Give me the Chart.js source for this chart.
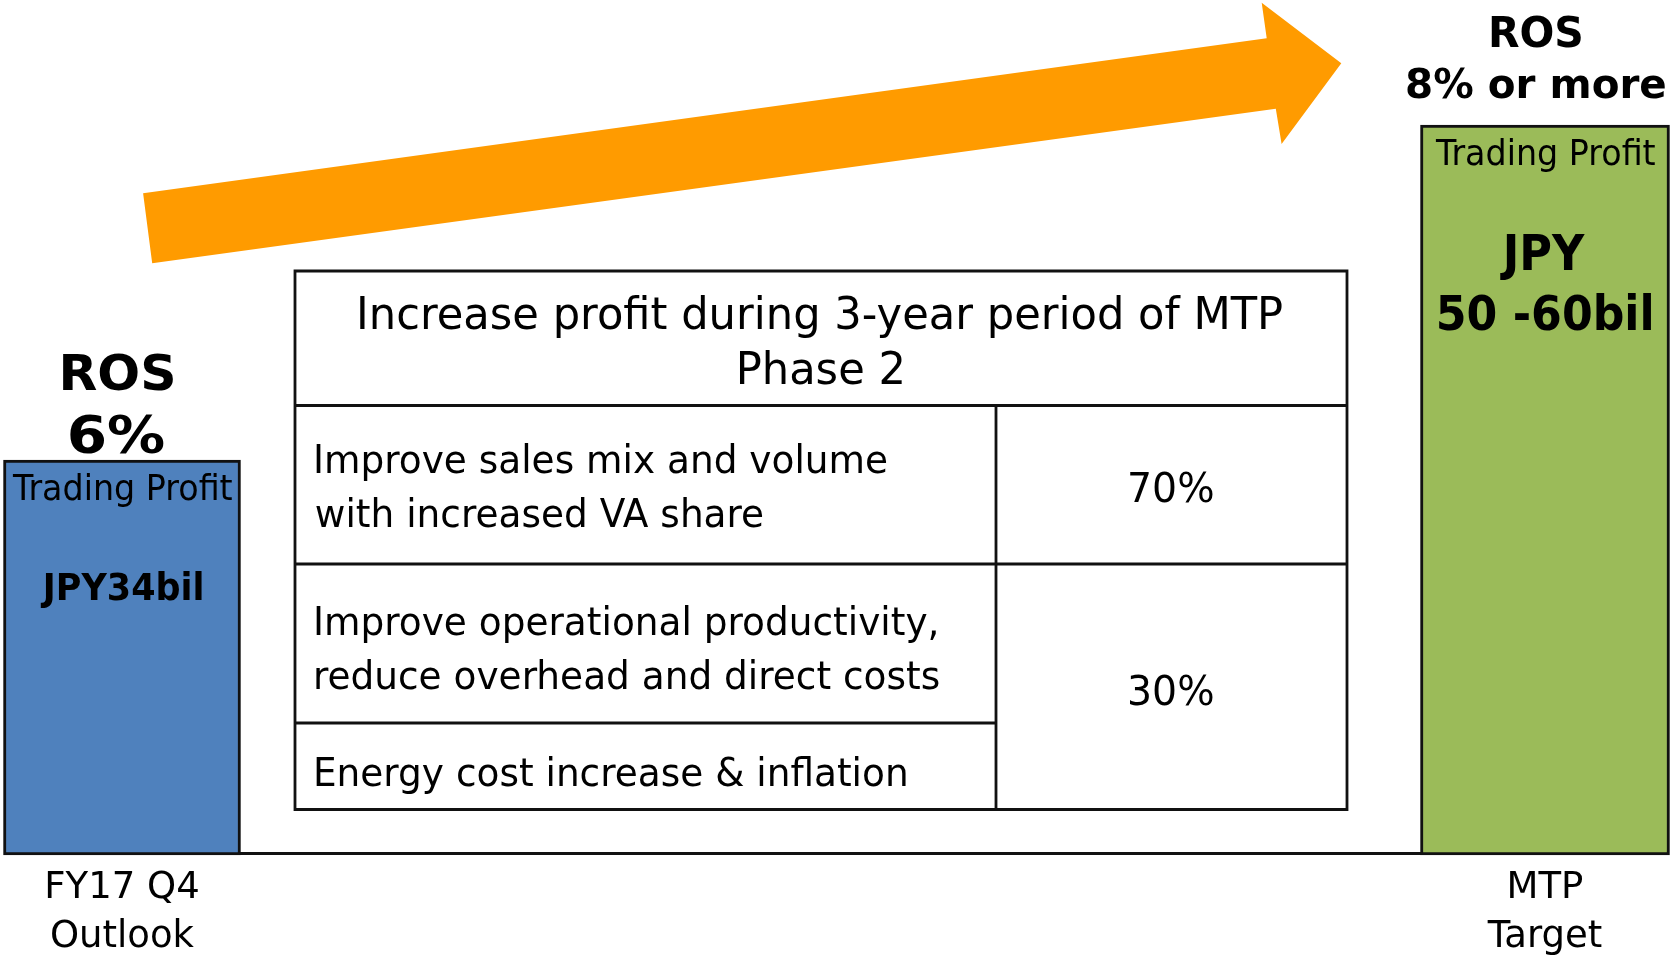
<!DOCTYPE html>
<html>
<head>
<meta charset="utf-8">
<script src="https://cdn.jsdelivr.net/npm/chart.js@4.4.1/dist/chart.umd.min.js"></script>
<style>
  html, body { margin: 0; padding: 0; background: #ffffff; }
  canvas { display: block; }
</style>
</head>
<body>
<canvas id="c" width="1672" height="966"></canvas>
<script>
// ---------------- DATA ----------------
const categories = [["FY17 Q4", "Outlook"], ["MTP", "Target"]];
const tradingProfit = [34, 60];                 // JPY bil (MTP target: 50-60)
const rosLabels = [["ROS", "6%"], ["ROS", "8% or more"]];
const profitTitle = ["Trading Profit", "Trading Profit"];
const profitValueLabels = [["JPY34bil"], ["JPY", "50 -60bil"]];
const tableHeader = ["Increase profit during 3-year period of MTP", "Phase 2"];
const tableRows = [
  ["Improve sales mix and volume", "with increased VA share"],
  ["Improve operational productivity,", "reduce overhead and direct costs"],
  ["Energy cost increase & inflation"]
];
const tableShares = ["70%", "30%"];

// ---------------- STYLE / LAYOUT ----------------
const FONT = '"DejaVu Sans", "Liberation Sans", sans-serif';
const yMin = 3.343, yMax = 69.70;
const barColors = ["#4F81BD", "#9BBB59"];
const barWidths = [237, 249];
const lineColor = '#111111';
const arrowColor = "#FF9B00";
const arrowShape = [[143.1,193.3],[1266.7,38.3],[1261.7,2.7],[1341.3,63.3],[1281.6,144],[1275.8,108.7],[152.2,263.3]];
const barLabelStyle = [
  { ros: [{dx:-4, dy:-70, size:50, w:111}, {dx:-5, dy:-7, size:52, w:94}],
    title: {dx:0, dy:40, size:35, w:220},
    val: [{dx:-1, dy:140, size:37, w:162}] },
  { ros: [{dx:-8.3, dy:-78.3, size:43.5, w:90}, {dx:-9, dy:-26.7, size:41, w:258}],
    title: {dx:0, dy:40, size:35, w:220},
    val: [{dx:-2.5, dy:145, size:50, w:85}, {dx:0, dy:205, size:48, w:213}] }
];
const tbl = {
  x0: 295, x1: 1347, colX: 996,
  yTop: 271, yHead: 405.5, yR1: 564, yR2: 723, yBot: 809.5,
  lw: 2.8,
  headBase: [328.5, 384], headSize: 45,
  rowX: 315.8, rowSize: 39, rowBase: [[473.3, 526.7], [635, 689], [786]],
  shareX: 1171.3, shareSize: 41, shareBase: [501.7, 705],
  sx: 0.96
};

function drawText(ctx, s, x, y, o) {
  ctx.save();
  ctx.font = (o.bold ? 'bold ' : '') + o.size + 'px ' + FONT;
  ctx.textAlign = 'left';
  ctx.textBaseline = 'alphabetic';
  ctx.fillStyle = '#000000';
  const m = ctx.measureText(s);
  const bbL = m.actualBoundingBoxLeft, bbR = m.actualBoundingBoxRight;
  let sx = o.sx || 1;
  if (o.w) sx = o.w / (bbL + bbR);
  const ox = o.align === 'center' ? -(bbR - bbL) / 2 : bbL;
  ctx.translate(x, y);
  ctx.scale(sx, 1);
  ctx.fillText(s, ox, 0);
  ctx.restore();
}

const decorPlugin = {
  id: 'decor',
  beforeDatasetsDraw(chart) {
    const ctx = chart.ctx;
    // arrow
    ctx.save();
    ctx.fillStyle = arrowColor;
    ctx.beginPath();
    arrowShape.forEach((p, i) => i ? ctx.lineTo(p[0], p[1]) : ctx.moveTo(p[0], p[1]));
    ctx.closePath();
    ctx.fill();
    ctx.restore();
    // table
    ctx.save();
    ctx.strokeStyle = lineColor;
    ctx.lineWidth = tbl.lw;
    ctx.fillStyle = '#ffffff';
    ctx.fillRect(tbl.x0, tbl.yTop, tbl.x1 - tbl.x0, tbl.yBot - tbl.yTop);
    ctx.beginPath();
    ctx.rect(tbl.x0, tbl.yTop, tbl.x1 - tbl.x0, tbl.yBot - tbl.yTop);
    ctx.moveTo(tbl.x0, tbl.yHead); ctx.lineTo(tbl.x1, tbl.yHead);
    ctx.moveTo(tbl.x0, tbl.yR1); ctx.lineTo(tbl.x1, tbl.yR1);
    ctx.moveTo(tbl.x0, tbl.yR2); ctx.lineTo(tbl.colX, tbl.yR2);
    ctx.moveTo(tbl.colX, tbl.yHead); ctx.lineTo(tbl.colX, tbl.yBot);
    ctx.stroke();
    ctx.restore();
    const cx = (tbl.x0 + tbl.x1) / 2;
    tableHeader.forEach((s, i) => drawText(ctx, s, cx, tbl.headBase[i], {size: tbl.headSize, sx: tbl.sx, align: 'center'}));
    tableRows.forEach((lines, r) => lines.forEach((s, i) =>
      drawText(ctx, s, tbl.rowX, tbl.rowBase[r][i], {size: tbl.rowSize, sx: tbl.sx, align: 'left'})));
    tableShares.forEach((s, i) => drawText(ctx, s, tbl.shareX, tbl.shareBase[i], {size: tbl.shareSize, sx: tbl.sx, align: 'center'}));
  },
  afterDatasetsDraw(chart) {
    const ctx = chart.ctx;
    // baseline joining the bar bottoms
    const els = tradingProfit.map((v, i) => chart.getDatasetMeta(i).data[i]).filter(Boolean);
    if (els.length) {
      const first = els[0], last = els[els.length - 1];
      ctx.save();
      ctx.strokeStyle = lineColor;
      ctx.lineWidth = 3;
      ctx.beginPath();
      const yb = chart.chartArea.bottom - 1.5;
      ctx.moveTo(first.x + first.width / 2 - 1.5, yb);
      ctx.lineTo(last.x - last.width / 2 + 1.5, yb);
      ctx.stroke();
      ctx.restore();
    }
    tradingProfit.forEach((v, i) => {
      const el = chart.getDatasetMeta(i).data[i];
      if (!el) return;
      const st = barLabelStyle[i];
      rosLabels[i].forEach((s, k) => {
        const o = st.ros[k];
        drawText(ctx, s, el.x + o.dx, el.y + o.dy, {size: o.size, w: o.w, bold: true, align: 'center'});
      });
      drawText(ctx, profitTitle[i], el.x + st.title.dx, el.y + st.title.dy, {size: st.title.size, w: st.title.w, align: 'center'});
      profitValueLabels[i].forEach((s, k) => {
        const o = st.val[k];
        drawText(ctx, s, el.x + o.dx, el.y + o.dy, {size: o.size, w: o.w, bold: true, align: 'center'});
      });
    });
  }
};

const datasets = tradingProfit.map((v, i) => ({
  label: categories[i].join(' '),
  data: tradingProfit.map((d, j) => (j === i ? d : null)),
  base: yMin,
  backgroundColor: barColors[i],
  borderColor: lineColor,
  borderWidth: 3,
  borderSkipped: false,
  barThickness: barWidths[i],
  clip: false
}));

new Chart(document.getElementById('c'), {
  type: 'bar',
  data: { labels: categories, datasets },
  options: {
    responsive: false,
    animation: false,
    devicePixelRatio: 1,
    layout: { padding: { left: 122, right: 127, top: 0, bottom: 0 } },
    datasets: { bar: { grouped: false, skipNull: true } },
    plugins: { legend: { display: false }, tooltip: { enabled: false }, title: { display: false } },
    scales: {
      x: {
        offset: false,
        grid: { display: false, drawTicks: false },
        border: { display: false },
        ticks: {
          color: '#000000',
          font: { family: FONT, size: 37, lineHeight: 1.33 },
          padding: 9,
          maxRotation: 0,
          autoSkip: false
        },
        afterFit(scale) { scale.height = 111; }
      },
      y: {
        display: false,
        min: yMin,
        max: yMax
      }
    }
  },
  plugins: [decorPlugin]
});
</script>
</body>
</html>
